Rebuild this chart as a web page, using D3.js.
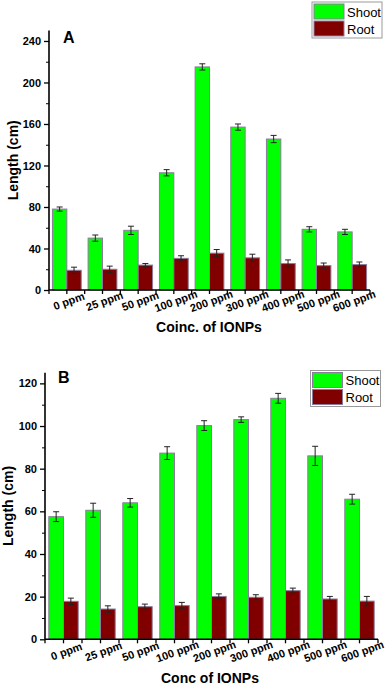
<!DOCTYPE html>
<html><head><meta charset="utf-8">
<script src="https://cdn.jsdelivr.net/npm/d3@7"></script>
<style>
html,body{margin:0;padding:0;background:#fff;}
svg{display:block;font-family:Arial,"Liberation Sans",sans-serif;}
</style></head>
<body>
<svg id="chart" width="387" height="685"></svg>
<script>
const categories = ["0 ppm","25 ppm","50 ppm","100 ppm","200 ppm","300 ppm","400 ppm","500 ppm","600 ppm"];
const seriesNames = ["Shoot","Root"];
const seriesColors = ["#00ff00","#800000"];

// Panel A
const shootA = [78, 50, 57.5, 113, 215, 157, 145.5, 58.5, 56];
const shootAErr = [2, 3, 4, 3, 3, 3, 3.5, 2.5, 2.5];
const rootA = [19, 20, 24, 30.5, 35.5, 31, 25.5, 23.5, 24.5];
const rootAErr = [3, 3, 1.5, 2.5, 3.5, 3.5, 3.5, 2.5, 2.5];
const yTicksA = [0, 40, 80, 120, 160, 200, 240];
const yMinorA = [20, 60, 100, 140, 180, 220];

// Panel B
const shootB = [57.5, 60.5, 64, 87.3, 100.2, 103, 113, 86, 65.7];
const shootBErr = [2.3, 3.3, 2, 3, 2.3, 1.3, 2.3, 4.5, 2.3];
const rootB = [17.8, 14.2, 15.3, 15.8, 20.1, 19.7, 22.8, 18.9, 17.9];
const rootBErr = [1.5, 1.5, 1.2, 1.5, 1.2, 1.2, 1.2, 1.2, 2.2];
const yTicksB = [0, 20, 40, 60, 80, 100, 120];
const yMinorB = [10, 30, 50, 70, 90, 110];

const svg = d3.select("#chart");

function panel(o) {
  const g = svg.append("g");
  const x = d3.scaleBand().domain(categories).range([o.x0, o.x1]).paddingInner(0).paddingOuter(0);
  const y = d3.scaleLinear().domain([0, o.yMax]).range([o.y0, o.yTop]);
  const sub = d3.scaleBand().domain(seriesNames).range([0, o.barW * 2]);
  const off = (x.bandwidth() - o.barW * 2) / 2;

  const series = [o.shoot, o.root];
  const errs = [o.shootErr, o.rootErr];

  series.forEach((vals, si) => {
    const name = seriesNames[si];
    g.append("g").selectAll("rect").data(vals).join("rect")
      .attr("x", (d, i) => x(categories[i]) + off + sub(name))
      .attr("y", d => y(d))
      .attr("width", sub.bandwidth())
      .attr("height", d => y(0) - y(d))
      .attr("fill", seriesColors[si])
      .attr("stroke", "#8c7c9c")
      .attr("stroke-width", 1);
    const eg = g.append("g").attr("stroke", "#222").attr("stroke-width", 1);
    vals.forEach((d, i) => {
      const cx = x(categories[i]) + off + sub(name) + sub.bandwidth() / 2;
      const e = errs[si][i];
      eg.append("line").attr("x1", cx).attr("x2", cx).attr("y1", y(d - e)).attr("y2", y(d + e));
      eg.append("line").attr("x1", cx - 3).attr("x2", cx + 3).attr("y1", y(d - e)).attr("y2", y(d - e));
      eg.append("line").attr("x1", cx - 3).attr("x2", cx + 3).attr("y1", y(d + e)).attr("y2", y(d + e));
    });
  });

  // Y axis
  const yAxis = g.append("g").attr("transform", `translate(${o.x0},0)`)
    .call(d3.axisLeft(y).tickValues(o.yTicks).tickSize(5).tickSizeOuter(0).tickPadding(3));
  g.append("g").attr("transform", `translate(${o.x0},0)`)
    .call(d3.axisLeft(y).tickValues(o.yMinor).tickSize(3).tickSizeOuter(0).tickFormat(""))
    .call(a => a.select(".domain").remove());
  yAxis.select(".domain").attr("d", `M0,${y(0)}V${o.yTop}`);

  // X axis
  const xAxis = g.append("g").attr("transform", `translate(0,${o.y0})`)
    .call(d3.axisBottom(x).tickSize(4).tickSizeOuter(0).tickPadding(3));
  const edges = categories.map(c => x(c)).concat([o.x1]);
  xAxis.selectAll(".edge").data(edges).join("line").attr("class", "edge")
    .attr("x1", d => d).attr("x2", d => d).attr("y1", 0).attr("y2", 4)
    .attr("stroke", "#000").attr("stroke-width", 1.3);
  xAxis.select(".domain").attr("d", `M${o.x0},0H${o.x1}`);
  xAxis.selectAll(".tick text").attr("text-anchor", "middle").attr("dy", "0.35em")
    .attr("transform", `translate(${o.lblDx},${o.lblDy}) rotate(-20)`).attr("y", 0);

  [yAxis, xAxis].forEach(a => {
    a.selectAll(".domain").attr("stroke", "#000").attr("stroke-width", 1.6);
    a.selectAll(".tick line").attr("stroke", "#000").attr("stroke-width", 1.3);
    a.selectAll(".tick text").attr("fill", "#000").attr("font-size", 11).attr("font-weight", "bold")
      .attr("font-family", "Arial, 'Liberation Sans', sans-serif");
  });

  // Panel letter
  g.append("text").attr("x", o.letterX).attr("y", o.letterY).text(o.letter)
    .attr("font-size", 16).attr("font-weight", "bold");

  // Axis titles
  g.append("text").attr("x", o.xTitleX).attr("y", o.xTitleY).attr("text-anchor", "middle")
    .attr("font-size", 14).attr("font-weight", "bold").text(o.xTitle);
  g.append("text").attr("transform", `translate(${o.yTitleX},${(o.y0 + o.yTop) / 2}) rotate(-90)`)
    .attr("text-anchor", "middle").attr("font-size", 14).attr("font-weight", "bold").text("Length (cm)");

  // Legend
  const lg = g.append("g").attr("transform", `translate(${o.legX},${o.legY})`);
  lg.append("rect").attr("x", 0).attr("y", 0).attr("width", 70).attr("height", 36)
    .attr("fill", "#fff").attr("stroke", "#999").attr("stroke-width", 1);
  seriesNames.forEach((n, i) => {
    lg.append("rect").attr("x", 2).attr("y", 2 + i * 17).attr("width", 30).attr("height", 15)
      .attr("fill", seriesColors[i]).attr("stroke", "#8c7c9c").attr("stroke-width", 1);
    lg.append("text").attr("x", 35).attr("y", 14.5 + i * 17).attr("font-size", 13).text(n);
  });
}

panel({
  x0: 49, x1: 370, y0: 290, yTop: 30.6, yMax: 250, barW: 14.4,
  shoot: shootA, shootErr: shootAErr, root: rootA, rootErr: rootAErr,
  yTicks: yTicksA, yMinor: yMinorA, lblDx: 2, lblDy: 11,
  letter: "A", letterX: 63, letterY: 43,
  xTitle: "Coinc. of IONPs", xTitleX: 209, xTitleY: 332, yTitleX: 18,
  legX: 312, legY: 2
});

panel({
  x0: 45, x1: 378, y0: 639.3, yTop: 372.7, yMax: 125, barW: 14.7,
  shoot: shootB, shootErr: shootBErr, root: rootB, rootErr: rootBErr,
  yTicks: yTicksB, yMinor: yMinorB, lblDx: 3, lblDy: 12,
  letter: "B", letterX: 58, letterY: 383,
  xTitle: "Conc of IONPs", xTitleX: 210, xTitleY: 683, yTitleX: 13,
  legX: 310.5, legY: 370.5
});
</script>
</body></html>
